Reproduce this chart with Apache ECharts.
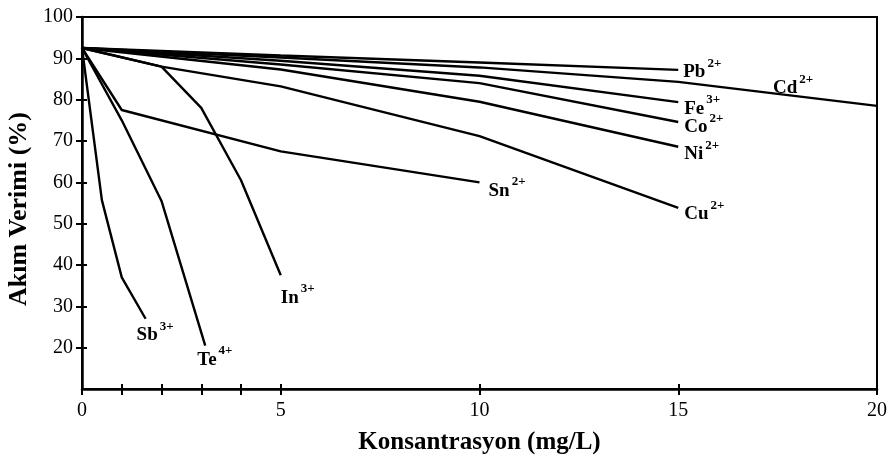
<!DOCTYPE html>
<html>
<head>
<meta charset="utf-8">
<script src="https://cdn.jsdelivr.net/npm/echarts@6/dist/echarts.min.js"></script>
<style>html,body{margin:0;padding:0;background:#fff}#c{width:894px;height:461px}</style>
</head>
<body>
<div id="c"></div>
<script>
// ---- data ----
const ionNames   = ["Pb", "Cd", "Fe", "Co", "Ni", "Cu", "Sn", "In", "Sb", "Te"];
const ionCharges = ["2+", "2+", "3+", "2+", "2+", "2+", "2+", "3+", "3+", "4+"];
const pb = [[0, 92.5], [5, 90.7], [10, 89.0], [15, 87.2]];
const cd = [[0, 92.5], [5, 90.2], [10, 87.8], [15, 84.3], [20, 78.5]];
const fe = [[0, 92.5], [5, 89.4], [10, 85.8], [15, 79.4]];
const co = [[0, 92.5], [5, 88.5], [10, 84.0], [15, 74.6]];
const ni = [[0, 92.5], [5, 87.3], [10, 79.5], [15, 68.6]];
const cu = [[0, 92.5], [2, 88.0], [5, 83.2], [10, 71.2], [15, 53.8]];
const sn = [[0, 92.5], [1, 77.5], [5, 67.5], [10, 60.0]];
const inn = [[0, 92.5], [2, 88.0], [3, 78.0], [4, 60.5], [5, 37.5]];
const sb = [[0, 92.5], [0.5, 55.7], [1, 37.0], [1.6, 27.0]];
const te = [[0, 92.5], [1, 75.0], [2, 55.5], [3.1, 20.5]];
const seriesData = [pb, cd, fe, co, ni, cu, sn, inn, sb, te];
const xTickValues = [0, 1, 2, 3, 4, 5, 10, 15, 20];
const xLabelValues = [0, 5, 10, 15, 20];
const yTickValues = [20, 30, 40, 50, 60, 70, 80, 90, 100];
const xTitle = "Konsantrasyon (mg/L)";
const yTitle = "Akım Verimi (%)";

// label placement (style only)
const labelOffsets = [
  [1, -1], [-108, -21], [2, 3], [2, 2], [2, 4], [2, 3], [5, 5], [-4, 19], [-13, 13], [-12, 11]
];

const FONT = "Liberation Serif";
const rich = {
  a: { fontFamily: FONT, fontWeight: "bold", fontSize: 19, color: "#000", verticalAlign: "bottom", lineHeight: 26 },
  s: { fontFamily: FONT, fontWeight: "bold", fontSize: 13, color: "#000", verticalAlign: "top", lineHeight: 26, padding: [1, 0, 0, 2] }
};

const series = seriesData.map((d, i) => ({
  type: "line",
  name: ionNames[i],
  data: d,
  symbol: "none",
  silent: true,
  xAxisIndex: 0,
  yAxisIndex: 0,
  lineStyle: { color: "#000", width: 2.4 },
  endLabel: {
    show: true,
    formatter: () => "{a|" + ionNames[i] + "}{s|" + ionCharges[i] + "}",
    rich: rich,
    distance: 4,
    offset: labelOffsets[i],
    align: "left",
    verticalAlign: "middle"
  }
}));

const axisCommonX = {
  type: "value", min: 0, max: 20, gridIndex: 0, position: "bottom",
  splitLine: { show: false }
};
const axisCommonY = {
  type: "value", min: 10, max: 100, interval: 10, gridIndex: 0, position: "left",
  splitLine: { show: false }
};

const chart = echarts.init(document.getElementById("c"), null, { renderer: "canvas" });
chart.setOption({
  animation: false,
  backgroundColor: "#fff",
  grid: { left: 82, right: 17, top: 17, bottom: 72, containLabel: false, outerBoundsMode: "none",
          show: true, borderColor: "#000", borderWidth: 2, backgroundColor: "transparent" },
  xAxis: [
    Object.assign({}, axisCommonX, {
      name: xTitle, nameLocation: "middle", nameGap: 41,
      nameTextStyle: { fontFamily: FONT, fontWeight: "bold", fontSize: 25, color: "#000" },
      axisLine: { show: true, lineStyle: { color: "#000", width: 2.5 } },
      axisTick: { show: true, length: 6, customValues: xTickValues, lineStyle: { color: "#000", width: 2 } },
      axisLabel: { show: true, customValues: xLabelValues, margin: 12, fontFamily: FONT, fontSize: 20, color: "#000" }
    }),
    Object.assign({}, axisCommonX, {
      axisLine: { show: false },
      axisTick: { show: true, inside: true, length: 5, customValues: xTickValues, lineStyle: { color: "#000", width: 2 } },
      axisLabel: { show: false }
    })
  ],
  yAxis: [
    Object.assign({}, axisCommonY, {
      name: yTitle, nameLocation: "middle", nameGap: 43,
      nameTextStyle: { fontFamily: FONT, fontWeight: "bold", fontSize: 26, color: "#000", padding: [0, 12, 0, 0] },
      axisLine: { show: true, lineStyle: { color: "#000", width: 2.5 } },
      axisTick: { show: true, length: 6, customValues: yTickValues, lineStyle: { color: "#000", width: 2 } },
      axisLabel: { show: true, customValues: yTickValues, margin: 9, fontFamily: FONT, fontSize: 20, color: "#000" }
    }),
    Object.assign({}, axisCommonY, {
      axisLine: { show: false },
      axisTick: { show: true, inside: true, length: 5, customValues: yTickValues, lineStyle: { color: "#000", width: 2 } },
      axisLabel: { show: false }
    })
  ],
  series: series
});
</script>
</body>
</html>
